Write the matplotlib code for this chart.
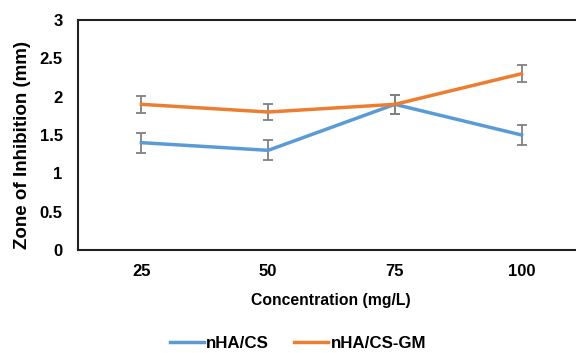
import matplotlib
matplotlib.use("Agg")
import matplotlib.pyplot as plt
from matplotlib.lines import Line2D

categories = ["25", "50", "75", "100"]
nha_cs = [1.4, 1.3, 1.9, 1.5]
nha_cs_err = [0.13, 0.13, 0.12, 0.13]
nha_cs_gm = [1.9, 1.8, 1.9, 2.3]
nha_cs_gm_err = [0.11, 0.11, 0.12, 0.11]
yticks = [0, 0.5, 1, 1.5, 2, 2.5, 3]
ytick_labels = ["0", "0.5", "1", "1.5", "2", "2.5", "3"]
series_labels = ["nHA/CS", "nHA/CS-GM"]
colors = ["#5B9BD5", "#ED7D31"]

plt.rcParams['font.family'] = ['Liberation Sans', 'DejaVu Sans']
W, H = 576, 353
fig = plt.figure(figsize=(W / 100, H / 100), dpi=100)
ax = fig.add_axes([78 / W, 103 / H, 507 / W, 230 / H])
x = list(range(len(categories)))

for vals, errs, c, lab in [(nha_cs, nha_cs_err, colors[0], series_labels[0]),
                           (nha_cs_gm, nha_cs_gm_err, colors[1], series_labels[1])]:
    ax.errorbar(x, vals, yerr=errs, color=c, lw=2.5, label=lab,
                ecolor="#808080", elinewidth=1.3, capsize=3.5, capthick=1.3, zorder=3)

ax.set_xlim(-0.5, len(categories) - 0.5)
ax.set_ylim(0, 3)
ax.set_xticks(x)
ax.set_xticklabels(categories, fontweight="bold", fontsize=12)
ax.set_yticks(yticks)
ax.set_yticklabels(ytick_labels, fontweight="bold", fontsize=12)
ax.tick_params(axis="y", length=0, pad=11)
ax.tick_params(axis="x", length=0, pad=10)
for s in ax.spines.values():
    s.set_linewidth(1.5)
    s.set_color("#222222")

fig.text(331 / W, 1 - 300 / H, "Concentration (mg/L)", ha="center", va="center",
         fontweight="bold", fontsize=11.3)
fig.text(23 / W, 1 - 145 / H, "Zone of Inhibition (mm)", ha="center", va="center",
         rotation=90, fontweight="bold", fontsize=13.5)

h = [Line2D([0], [0], color=colors[0], lw=2.5), Line2D([0], [0], color=colors[1], lw=2.5)]
fig.legend(h, series_labels, loc="center", bbox_to_anchor=(298 / W, 1 - 343 / H), ncol=2,
           frameon=False, prop={"weight": "bold", "size": 12.2}, handlelength=2.0,
           columnspacing=1.5, handletextpad=0.15, borderaxespad=0, borderpad=0)

fig.savefig("out.png", dpi=100)
